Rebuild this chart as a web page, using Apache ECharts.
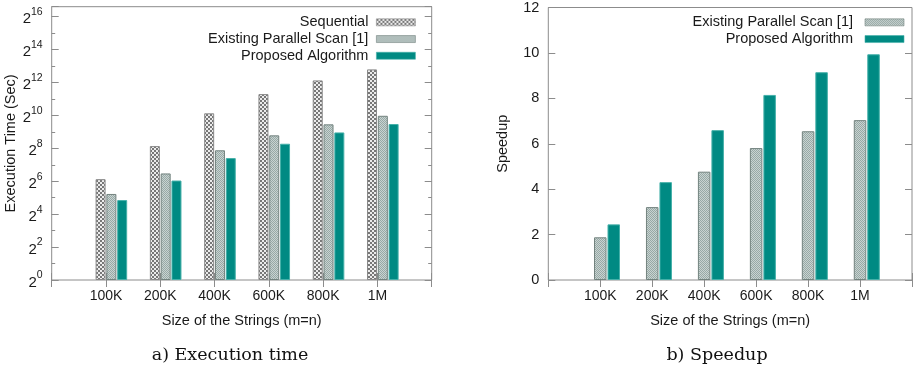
<!DOCTYPE html>
<html>
<head>
<meta charset="utf-8">
<script src="https://cdn.jsdelivr.net/npm/echarts@6/dist/echarts.min.js"></script>
<style>
html,body{margin:0;padding:0;background:#fff;}
#chart{width:915px;height:371px;}
</style>
</head>
<body>
<div id="chart"></div>
<script>
// ---- data ----
const categories = ['100K', '200K', '400K', '600K', '800K', '1M'];
// execution time in seconds (plotted on a log2 scale)
const seqTime      = [70, 282, 1120, 2520, 4480, 7130];
const existTime    = [37.5, 89, 236, 443, 704, 1010];
const propTime     = [29, 66, 170, 311, 501, 714];
// speedup
const existSpeedup = [1.88, 3.21, 4.77, 5.81, 6.55, 7.04];
const propSpeedup  = [2.45, 4.31, 6.60, 8.15, 9.15, 9.94];
// axis ticks
const timeExpMin = 0, timeMaxSec = 100000, timeExpStep = 2;   // labels 2^0 .. 2^16
const speedMin = 0, speedMax = 12, speedStep = 2;
const seriesNames = ['Sequential', 'Existing Parallel Scan [1]', 'Proposed Algorithm'];
const captions = ['a) Execution time', 'b) Speedup'];
const xTitle = 'Size of the Strings (m=n)';

// ---- helpers ----
function pattern(c1, c2, cell) {
  const cv = document.createElement('canvas');
  cv.width = cell * 2; cv.height = cell * 2;
  const g = cv.getContext('2d');
  g.fillStyle = c1; g.fillRect(0, 0, cell * 2, cell * 2);
  g.fillStyle = c2; g.fillRect(0, 0, cell, cell); g.fillRect(cell, cell, cell, cell);
  return { image: cv, repeat: 'repeat' };
}
const seqColor = pattern('#ececec', '#777777', 2);
const existColor = pattern('#c9d3d1', '#97a9a6', 1);
const propColor = '#008a83';

const FONT = 'Liberation Sans';
const TXT = '#1a1a1a';
const AX = '#8c8c8c';
const xCats = [''].concat(categories, ['']);
const pad = arr => ['-'].concat(arr, ['-']);
const log2 = arr => arr.map(v => Math.log2(v));
const timeExpMax = Math.log2(timeMaxSec);

function catAxis(grid, pos, labels) {
  return {
    type: 'category', gridIndex: grid, position: pos, data: xCats, boundaryGap: false,
    axisLine: { show: false },
    axisTick: { show: true, inside: true, length: 7, lineStyle: { color: AX } },
    axisLabel: { show: labels, color: TXT, fontFamily: FONT, fontSize: 14, margin: 9 },
    splitLine: { show: false },
    name: labels ? xTitle : '', nameLocation: 'middle', nameGap: 33,
    nameTextStyle: { color: TXT, fontFamily: FONT, fontSize: 14.5 }
  };
}
function valAxis(grid, pos, min, max, step, tickLen, labelFmt, name, nameGap) {
  return {
    type: 'value', gridIndex: grid, position: pos, min: min, max: max, interval: step,
    axisLine: { show: false },
    axisTick: { show: true, inside: true, length: tickLen, lineStyle: { color: AX } },
    axisLabel: labelFmt ? Object.assign({ show: true, color: TXT, fontFamily: FONT, fontSize: 14.5, margin: 9 }, labelFmt) : { show: false },
    splitLine: { show: false },
    name: name || '', nameLocation: 'middle', nameGap: nameGap || 0,
    nameTextStyle: { color: TXT, fontFamily: FONT, fontSize: 14.5 }
  };
}
const powLabel = {
  formatter: function (v) {
    if (Math.abs(v - Math.round(v)) > 1e-6) return '';
    return '{b|2}{s|' + Math.round(v) + '}';
  },
  rich: {
    b: { fontFamily: FONT, fontSize: 15, color: TXT, verticalAlign: 'bottom' },
    s: { fontFamily: FONT, fontSize: 10.5, color: TXT, verticalAlign: 'top', lineHeight: 20 }
  }
};
const numLabel = { formatter: v => (Math.abs(v - Math.round(v)) > 1e-6 ? '' : String(v)) };

const barBase = { type: 'bar', barGap: '8%' };
function dummy(x, y, w) {
  return Object.assign({}, barBase, { name: '_pad' + x, xAxisIndex: x, yAxisIndex: y, barWidth: w,
    data: pad(categories.map(() => '-')), itemStyle: { color: 'rgba(0,0,0,0)' }, silent: true });
}
const legendBase = {
  orient: 'vertical', top: 14, padding: 0, align: 'right', icon: 'rect',
  itemWidth: 39, itemHeight: 7, itemGap: 0, selectedMode: false,
  itemStyle: { borderWidth: 0.6 },
  textStyle: { color: TXT, fontFamily: FONT, fontSize: 14.5, lineHeight: 16.7, padding: [0, 3, 0, 0] }
};

const option = {
  animation: false,
  backgroundColor: '#fff',
  grid: [
    { left: 51.7, right: 483.3, top: 6.7, bottom: 91, show: true, borderColor: AX, borderWidth: 1, backgroundColor: 'transparent' },
    { left: 548.3, right: -4.3, top: 7.3, bottom: 91, show: true, borderColor: AX, borderWidth: 1, backgroundColor: 'transparent' }
  ],
  xAxis: [catAxis(0, 'bottom', true), catAxis(0, 'top', false), catAxis(1, 'bottom', true), catAxis(1, 'top', false)],
  yAxis: [
    valAxis(0, 'left', timeExpMin, timeExpMax, timeExpStep, 7, powLabel, 'Execution Time (Sec)', 31),
    valAxis(0, 'left', timeExpMin, timeExpMax, timeExpStep / 2, 3.5, null),
    valAxis(0, 'right', timeExpMin, timeExpMax, timeExpStep, 7, null),
    valAxis(0, 'right', timeExpMin, timeExpMax, timeExpStep / 2, 3.5, null),
    valAxis(1, 'left', speedMin, speedMax, speedStep, 7, numLabel, 'Speedup', 38),
    valAxis(1, 'right', speedMin, speedMax, speedStep, 7, null)
  ],
  legend: [
    Object.assign({}, legendBase, { data: seriesNames, right: 499.3 }),
    Object.assign({}, legendBase, { data: seriesNames.slice(1).map(n => n + ' '), right: 10.7 })
  ],
  series: [
    dummy(0, 0, 10),
    Object.assign({}, barBase, { name: seriesNames[0], xAxisIndex: 0, yAxisIndex: 0, barWidth: 10,
      data: pad(log2(seqTime)), itemStyle: { color: seqColor, borderColor: '#8a8a8a', borderWidth: 1 } }),
    Object.assign({}, barBase, { name: seriesNames[1], xAxisIndex: 0, yAxisIndex: 0, barWidth: 10,
      data: pad(log2(existTime)), itemStyle: { color: existColor, borderColor: '#73837f', borderWidth: 1 } }),
    Object.assign({}, barBase, { name: seriesNames[2], xAxisIndex: 0, yAxisIndex: 0, barWidth: 10,
      data: pad(log2(propTime)), itemStyle: { color: propColor, borderColor: '#45b0a9', borderWidth: 1 } }),
    dummy(2, 4, 12.5),
    Object.assign({}, barBase, { name: seriesNames[1] + ' ', xAxisIndex: 2, yAxisIndex: 4, barWidth: 12.5,
      data: pad(existSpeedup), itemStyle: { color: existColor, borderColor: '#73837f', borderWidth: 1 } }),
    Object.assign({}, barBase, { name: seriesNames[2] + ' ', xAxisIndex: 2, yAxisIndex: 4, barWidth: 12.5,
      data: pad(propSpeedup), itemStyle: { color: propColor, borderColor: '#45b0a9', borderWidth: 1 } })
  ],
  graphic: [
    { type: 'text', x: 230, y: 355, style: { text: captions[0], font: '17.5px "DejaVu Serif"', fill: '#111', align: 'center', verticalAlign: 'middle' } },
    { type: 'text', x: 717, y: 355, style: { text: captions[1], font: '17.5px "DejaVu Serif"', fill: '#111', align: 'center', verticalAlign: 'middle' } }
  ]
};
const chart = echarts.init(document.getElementById('chart'), null, { renderer: 'canvas' });
chart.setOption(option);
</script>
</body>
</html>
